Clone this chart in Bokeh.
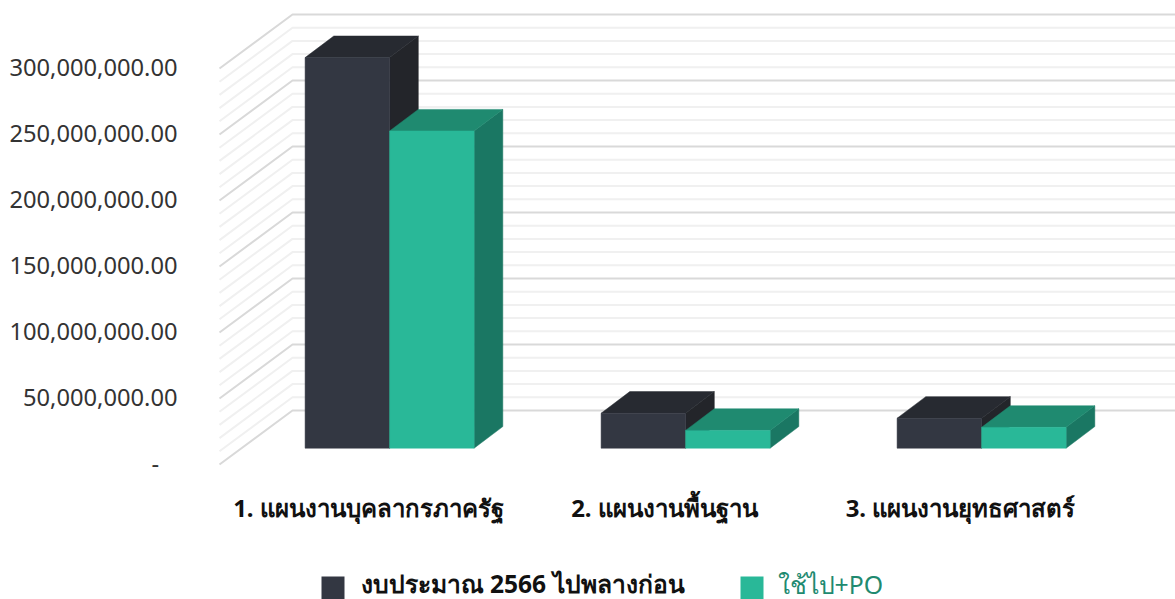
from bokeh.plotting import figure
from bokeh.models import Range1d, FixedTicker, NumeralTickFormatter
from bokeh.core.properties import value
from bokeh.embed import file_html
from bokeh.resources import INLINE

categories = ["1. แผนงานบุคลากรภาครัฐ", "2. แผนงานพื้นฐาน", "3. แผนงานยุทธศาสตร์"]
series_names = ["งบประมาณ 2566 ไปพลางก่อน", "ใช้ไป+PO"]
budget = [295900000, 26500000, 22700000]
spent = [240300000, 13500000, 15800000]
major_ticks = [0, 50000000, 100000000, 150000000, 200000000, 250000000, 300000000]
minor_ticks = [v * 10000000 for v in range(0, 31) if v % 5]

W, H = 1175, 599
FONT = "Noto Sans"
PXV = 50000000 / 66.0          # value units per pixel


def yv(py):
    return (464 - py) * PXV


LIFT = 2 * PXV                 # tick labels sit 2 px above the front wall edge
p = figure(width=W, height=H, output_backend="svg", toolbar_location=None,
           x_range=Range1d(183, W), y_range=Range1d(yv(H), yv(0)),
           min_border_left=183, min_border_right=0, min_border_top=0, min_border_bottom=0)
p.styles = {"position": "absolute", "left": "0px", "top": "0px"}
p.extra_y_ranges = {"labels": Range1d(yv(H) - LIFT, yv(0) - LIFT)}
p.xaxis.visible = False
p.xgrid.visible = False
p.ygrid.visible = False
p.outline_line_color = None
ax = p.yaxis[0]
ax.y_range_name = "labels"
ax.ticker = FixedTicker(ticks=major_ticks)
ax.formatter = NumeralTickFormatter(format="0,0.00")
ax.major_label_overrides = {0: "-\u00a0\u00a0\u00a0"}
ax.axis_line_color = None
ax.major_tick_line_color = None
ax.minor_tick_line_color = None
ax.major_tick_out = 0
ax.major_label_standoff = 6
ax.major_label_text_font = FONT
ax.major_label_text_font_size = "23.7px"
ax.major_label_text_color = "#333333"

# wall: front edge x=219, back edge x=292, depth lift 54 px
DX, DY = 73, 54
RIGHT = W + 5


def wall(vals, color):
    xs = [[219, 219 + DX, RIGHT] for _ in vals]
    ys = [[v, v + DY * PXV, v + DY * PXV] for v in vals]
    p.multi_line(xs, ys, line_color=color, line_width=2)


wall(minor_ticks, "#f0f0f0")
wall(major_ticks, "#d9d9d9")

# bars
BASE = 464 - 447.7         # front face floor lift, px
BW, SX, SY = 84.5, 28.7, 21.6
X0, STEP = 304.6, 296


def box(x, v, front, side, top):
    y0 = BASE * PXV
    y1 = y0 + v
    sy = SY * PXV
    p.patch([x + BW, x + BW + SX, x + BW + SX, x + BW], [y0, y0 + sy, y1 + sy, y1], fill_color=side, line_color=side, line_width=0.5)
    p.patch([x, x + SX, x + BW + SX, x + BW], [y1, y1 + sy, y1 + sy, y1], fill_color=top, line_color=top, line_width=0.5)
    p.patch([x, x + BW, x + BW, x], [y0, y0, y1, y1], fill_color=front, line_color=front, line_width=0.5)


for i in range(len(categories)):
    x = X0 + i * STEP
    box(x, budget[i], "#333742", "#23252a", "#272a31")
    box(x + BW, spent[i], "#29b898", "#1a7763", "#1f8a70")

# category labels
cat_centres = [368, 664, 960]
p.text(cat_centres, [yv(507)] * 3, text=categories, text_align="center", text_baseline="middle",
       text_font=value(FONT), text_font_size="24px", text_font_style="bold", text_color="#111111")

# legend
p.quad(left=[321, 740], right=[344, 763], top=[yv(576)] * 2, bottom=[yv(600)] * 2,
       fill_color=["#333742", "#29b898"], line_color=None)
p.text([360], [yv(583)], text=[series_names[0]], text_baseline="middle", text_font=value(FONT),
       text_font_size="24.6px", text_font_style="bold", text_color="#111111")
p.text([777], [yv(583)], text=[series_names[1]], text_baseline="middle", text_font=value(FONT),
       text_font_size="24.8px", text_color="#1f8a70")

open("out.html", "w").write(file_html(p, INLINE))
